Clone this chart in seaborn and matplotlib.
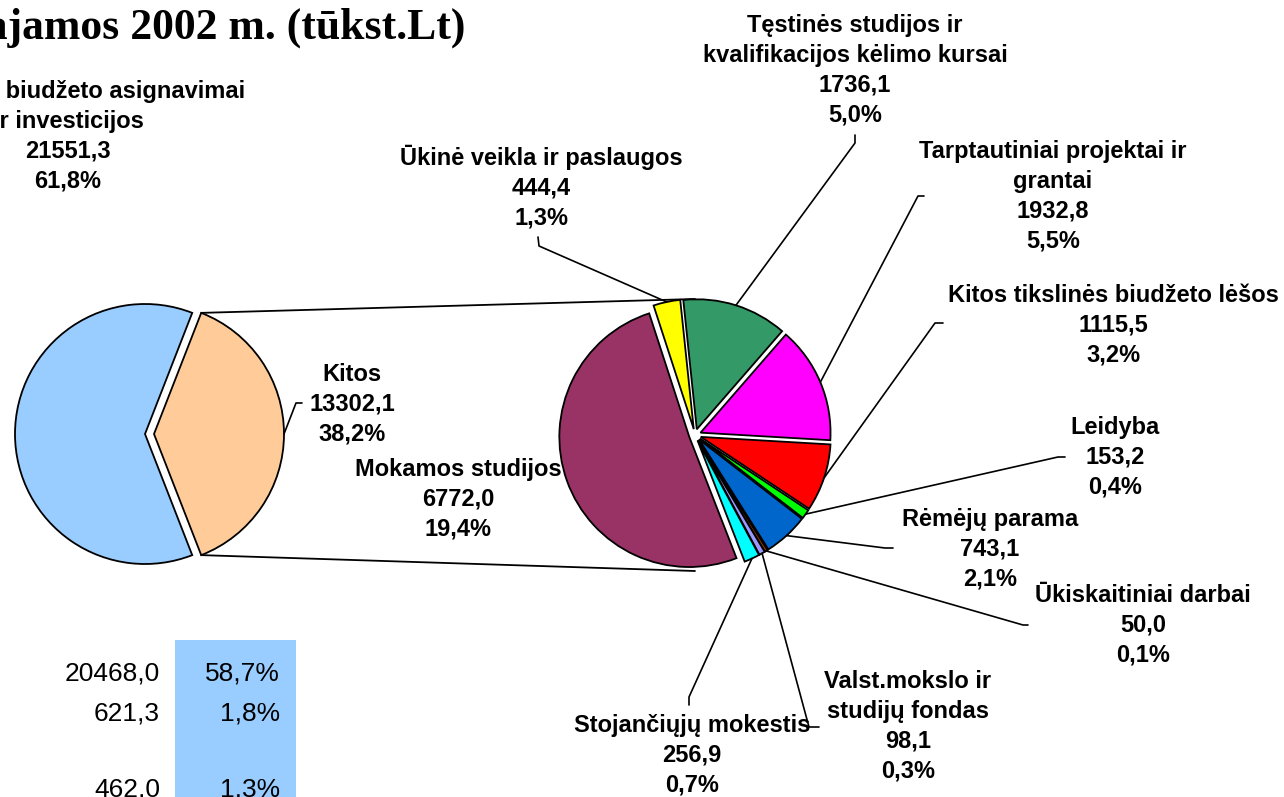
import numpy as np
import matplotlib
matplotlib.use("Agg")
import matplotlib.pyplot as plt
import seaborn as sns

sns.set_theme(style="white")
plt.rcParams["font.family"] = ["Liberation Sans", "DejaVu Sans"]
plt.rcParams["text.color"] = "black"

# ---- data (tūkst. Lt) ----
main_labels = ["Kitos", "Valstybės biudžeto asignavimai\nir investicijos"]
main_values = [13302.1, 21551.3]
main_colors = ["#FFCC99", "#99CCFF"]

other_labels = [
    "Ūkinė veikla ir paslaugos",
    "Tęstinės studijos ir\nkvalifikacijos kėlimo kursai",
    "Tarptautiniai projektai ir\ngrantai",
    "Kitos tikslinės biudžeto lėšos",
    "Leidyba",
    "Rėmėjų parama",
    "Ūkiskaitiniai darbai",
    "Valst.mokslo ir\nstudijų fondas",
    "Stojančiųjų mokestis",
    "Mokamos studijos",
]
other_values = [444.4, 1736.1, 1932.8, 1115.5, 153.2, 743.1, 50.0, 98.1, 256.9, 6772.0]
other_colors = ["#FFFF00", "#339966", "#FF00FF", "#FF0000", "#00FF00",
                "#0066CC", "#993300", "#9999FF", "#00FFFF", "#993366"]

budget_parts = [20468.0, 621.3, 462.0]

grand_total = sum(main_values)


def lt(x, nd=1):
    return f"{x:.{nd}f}".replace(".", ",")


def label_text(name, value):
    return f"{name}\n{lt(value)}\n{lt(100 * value / grand_total)}%"


# ---- canvas in pixel units ----
W, H = 1284, 797
fig = plt.figure(figsize=(W / 100, H / 100), dpi=100)
ax = fig.add_axes([0, 0, 1, 1])


def Y(py):
    return H - py


edge = dict(edgecolor="black", linewidth=1.3)

# main pie: "Kitos" slice pulled out to the right (explode in pixel units)
kitos_span = 360 * main_values[0] / grand_total
main_r = 130
main_wedges, _ = ax.pie(main_values, colors=main_colors, startangle=-kitos_span / 2,
                        explode=[9, 0], radius=main_r, center=(145, Y(434)),
                        wedgeprops=edge, frame=True)

# secondary pie: breakdown of "Kitos"
sec_r = 130
sec_center = (695, Y(435))
sec_gap = 6
sec_wedges, _ = ax.pie(other_values, colors=other_colors, startangle=108,
                       counterclock=False, explode=[sec_gap] * len(other_values),
                       radius=sec_r, center=sec_center, wedgeprops=edge, frame=True)
ax.set_xlim(0, W)
ax.set_ylim(0, H)
ax.set_aspect("equal")
ax.axis("off")


def wedge_point(w, ang, rr=None):
    rr = w.r if rr is None else rr
    cx, cy = w.center
    a = np.deg2rad(ang)
    return cx + rr * np.cos(a), cy + rr * np.sin(a)


def wedge_anchor(w):
    mid = 0.5 * (w.theta1 + w.theta2)
    return wedge_point(w, mid)


# connector lines between the pulled slice and the secondary pie
kw = main_wedges[0]
top_k = wedge_point(kw, kw.theta2)
bot_k = wedge_point(kw, kw.theta1)
reach = sec_r + sec_gap
ax.plot([top_k[0], sec_center[0]], [top_k[1], sec_center[1] + reach],
        color="black", lw=1.3, zorder=0)
ax.plot([bot_k[0], sec_center[0]], [bot_k[1], sec_center[1] - reach],
        color="black", lw=1.3, zorder=0)

label_font = dict(fontsize=17, fontweight="bold", ha="center", va="center",
                  multialignment="center", linespacing=1.38, color="black")

# label layout: text centre and leader elbow / end (pixel units)
sec_layout = [
    ((541, 187), [(539, 246), (538, 237)]),
    ((855, 70), [(855, 143), (855, 135)]),
    ((1053, 196), [(918, 196), (924, 196)]),
    ((1113, 325), [(935, 323), (943, 323)]),
    ((1115, 457), [(1058, 457), (1065, 457)]),
    ((990, 549), [(885, 548), (893, 548)]),
    ((1143, 625), [(1023, 625), (1028, 625)]),
    ((908, 726), [(809, 727), (819, 727)]),
    ((692, 755), [(689, 697), (689, 705)]),
    ((458, 499), None),
]

for w, name, val, (pos, leader) in zip(sec_wedges, other_labels, other_values, sec_layout):
    ax.text(pos[0], Y(pos[1]), label_text(name, val), **label_font)
    if leader:
        ax0 = wedge_anchor(w)
        xs = [ax0[0]] + [p[0] for p in leader]
        ys = [ax0[1]] + [Y(p[1]) for p in leader]
        ax.plot(xs, ys, color="black", lw=1.2, zorder=3)

# main pie labels
ax.text(352, Y(404), label_text(main_labels[0], main_values[0]), **label_font)
a0 = wedge_anchor(main_wedges[0])
ax.plot([a0[0], 296, 302], [a0[1], Y(403), Y(403)], color="black", lw=1.2)
ax.text(68, Y(136), label_text(main_labels[1], main_values[1]), **label_font)

# title
ax.text(465, Y(39), "Pajamos 2002 m. (tūkst.Lt)", fontsize=31.5, fontweight="bold",
        family=["Liberation Serif", "DejaVu Serif"], ha="right", va="baseline",
        color="black")

# budget breakdown table
ax.add_patch(plt.Rectangle((175, 0), 121, Y(640), facecolor="#99CCFF",
                           edgecolor="none", zorder=0))
row_y = [674, 714, 789]
for v, yy in zip(budget_parts, row_y):
    ax.text(160, Y(yy), lt(v), fontsize=19, ha="right", va="center", color="black")
    ax.text(280, Y(yy), f"{lt(100 * v / grand_total)}%", fontsize=19,
            ha="right", va="center", color="black")

fig.savefig("out.png", dpi=100)
